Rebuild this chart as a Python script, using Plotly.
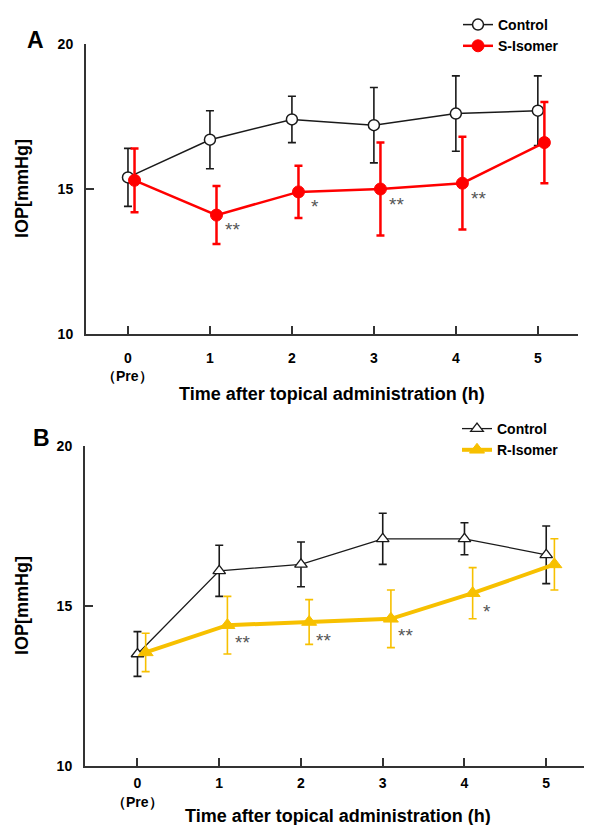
import plotly.graph_objects as go

# ---------------- data ----------------
time_h = [0, 1, 2, 3, 4, 5]
tick_text = ["0", "1", "2", "3", "4", "5"]

# Panel A
ctrl_A = [15.4, 16.7, 17.4, 17.2, 17.6, 17.7]
ctrl_A_err = [1.0, 1.0, 0.8, 1.3, 1.3, 1.2]
s_iso = [15.3, 14.1, 14.9, 15.0, 15.2, 16.6]
s_iso_err = [1.1, 1.0, 0.9, 1.6, 1.6, 1.4]
sig_A_time = [1, 2, 3, 4]
sig_A_text = ["**", "*", "**", "**"]
sig_A_y = [13.75, 14.55, 14.6, 14.8]

# Panel B
ctrl_B = [13.5, 16.1, 16.3, 17.1, 17.1, 16.6]
ctrl_B_err = [0.7, 0.8, 0.7, 0.8, 0.5, 0.9]
r_iso = [13.55, 14.4, 14.5, 14.6, 15.4, 16.3]
r_iso_err = [0.6, 0.9, 0.7, 0.9, 0.8, 0.8]
sig_B_time = [1, 2, 3, 4]
sig_B_text = ["**", "**", "**", "*"]
sig_B_y = [13.97, 14.06, 14.2, 14.95]

# page body has an 8px margin; figure sized to fit the 592x825 window
OFF = 8
W, H = 592 - OFF, 825 - OFF
FONT = "Liberation Sans, Arial, sans-serif"
BLACK = "#1a1a1a"
RED = "#FF0000"
GOLD = "#F7C000"
AXIS = "#333333"

def px_x(p):
    return (p - OFF) / W

def px_y(p):
    return 1 - (p - OFF) / H

fig = go.Figure()

# ---- Panel A traces ----
fig.add_trace(go.Scatter(
    x=time_h, y=ctrl_A, name="Control", mode="lines+markers",
    xaxis="x", yaxis="y", legend="legend",
    line=dict(color=BLACK, width=1.5),
    marker=dict(symbol="circle", size=11, color="white", line=dict(color=BLACK, width=1.5)),
    error_y=dict(type="data", array=ctrl_A_err, color=BLACK, thickness=1.6, width=4),
))
fig.add_trace(go.Scatter(
    x=[t + 0.08 for t in time_h], y=s_iso, name="S-Isomer", mode="lines+markers",
    xaxis="x", yaxis="y", legend="legend",
    line=dict(color=RED, width=2.5),
    marker=dict(symbol="circle", size=12, color=RED, line=dict(color=RED, width=1)),
    error_y=dict(type="data", array=s_iso_err, color=RED, thickness=2.5, width=4),
))

# ---- Panel B traces ----
fig.add_trace(go.Scatter(
    x=time_h, y=ctrl_B, name="Control", mode="lines+markers",
    xaxis="x2", yaxis="y2", legend="legend2",
    line=dict(color=BLACK, width=1.3),
    marker=dict(symbol="triangle-up", size=11, color="white", line=dict(color=BLACK, width=1.3)),
    error_y=dict(type="data", array=ctrl_B_err, color=BLACK, thickness=1.6, width=4),
))
fig.add_trace(go.Scatter(
    x=[t + 0.1 for t in time_h], y=r_iso, name="R-Isomer", mode="lines+markers",
    xaxis="x2", yaxis="y2", legend="legend2",
    line=dict(color=GOLD, width=4),
    marker=dict(symbol="triangle-up", size=13, color=GOLD, line=dict(color=GOLD, width=1)),
    error_y=dict(type="data", array=r_iso_err, color=GOLD, thickness=1.6, width=4),
))

tickfont = dict(family=FONT, size=14, color="black", weight="bold")

def xaxis_cfg(domain, rng, standoff):
    return dict(domain=domain, range=rng, tickvals=time_h, ticktext=tick_text,
                showline=True, linecolor=AXIS, linewidth=2, ticks="inside", ticklen=8,
                tickwidth=2, tickcolor=AXIS, showgrid=False, zeroline=False,
                tickfont=tickfont, ticklabelstandoff=standoff, fixedrange=True)

def yaxis_cfg(domain, anchor):
    return dict(domain=domain, range=[10, 20], tickvals=[10, 15, 20],
                showline=True, linecolor=AXIS, linewidth=2, ticks="inside", ticklen=8,
                tickwidth=2, tickcolor=AXIS, showgrid=False, zeroline=False,
                tickfont=tickfont, ticklabelstandoff=8, anchor=anchor, fixedrange=True)

# Panel A geometry: x axis 86..578 px, y 44..334 px; tick0 at 128, spacing 82
fig.update_layout(
    xaxis=dict(**xaxis_cfg([px_x(86), px_x(578)], [-0.512, 5.49], 10), anchor="y"),
    yaxis=yaxis_cfg([px_y(334), px_y(44)], "x"),
    xaxis2=dict(**xaxis_cfg([px_x(85), 1.0], [-0.642, 5.56], 3), anchor="y2"),
    yaxis2=yaxis_cfg([px_y(766), px_y(446)], "x2"),
)

legend_font = dict(family=FONT, size=14, color="black", weight="bold")
fig.update_layout(
    legend=dict(x=px_x(458), y=px_y(9), xanchor="left", yanchor="top",
                font=legend_font, bgcolor="rgba(0,0,0,0)", tracegroupgap=0,
                itemwidth=30, traceorder="normal"),
    legend2=dict(x=px_x(457), y=px_y(413), xanchor="left", yanchor="top",
                 font=legend_font, bgcolor="rgba(0,0,0,0)", tracegroupgap=0,
                 itemwidth=30, traceorder="normal"),
)

annotations = []
title_font = dict(family=FONT, size=18, color="black", weight="bold")
# panel labels
annotations.append(dict(text="A", x=px_x(25), y=px_y(25), xref="paper", yref="paper",
                        showarrow=False, font=dict(family=FONT, size=23, color="black", weight="bold")))
annotations.append(dict(text="B", x=px_x(31), y=px_y(438), xref="paper", yref="paper",
                        showarrow=False, font=dict(family=FONT, size=23, color="black", weight="bold")))
# axis titles
for ycen, xcen in [(394, 332), (816, 338)]:
    annotations.append(dict(text="Time after topical administration (h)", x=px_x(xcen), y=px_y(ycen),
                            xref="paper", yref="paper", showarrow=False, font=title_font,
                            xanchor="center", yanchor="middle"))
for ycen in [189, 606]:
    annotations.append(dict(text="IOP[mmHg]", x=px_x(22), y=px_y(ycen), xref="paper", yref="paper",
                            showarrow=False, textangle=-90, font=title_font,
                            xanchor="center", yanchor="middle"))
# (Pre) labels
for xx, ycen in [("x", 376), ("x2", 802)]:
    annotations.append(dict(text="（Pre）", x=0, y=px_y(ycen), xref=xx, yref="paper",
                            showarrow=False, font=dict(family=FONT, size=14, color="black", weight="bold"),
                            xanchor="center", yanchor="middle"))
# significance markers
star_font = dict(family=FONT, size=19, color="#555555")
for t, txt, yy in zip(sig_A_time, sig_A_text, sig_A_y):
    annotations.append(dict(text=txt, x=t + 0.28, y=yy, xref="x", yref="y", showarrow=False,
                            font=star_font, xanchor="center", yanchor="middle", yshift=-4))
for t, txt, yy in zip(sig_B_time, sig_B_text, sig_B_y):
    annotations.append(dict(text=txt, x=t + 0.28, y=yy, xref="x2", yref="y2", showarrow=False,
                            font=star_font, xanchor="center", yanchor="middle", yshift=-4))

fig.update_layout(
    width=W, height=H, margin=dict(l=0, r=0, t=0, b=0, autoexpand=False),
    paper_bgcolor="white", plot_bgcolor="white",
    annotations=annotations, font=dict(family=FONT),
)

fig.write_html("out.html")
